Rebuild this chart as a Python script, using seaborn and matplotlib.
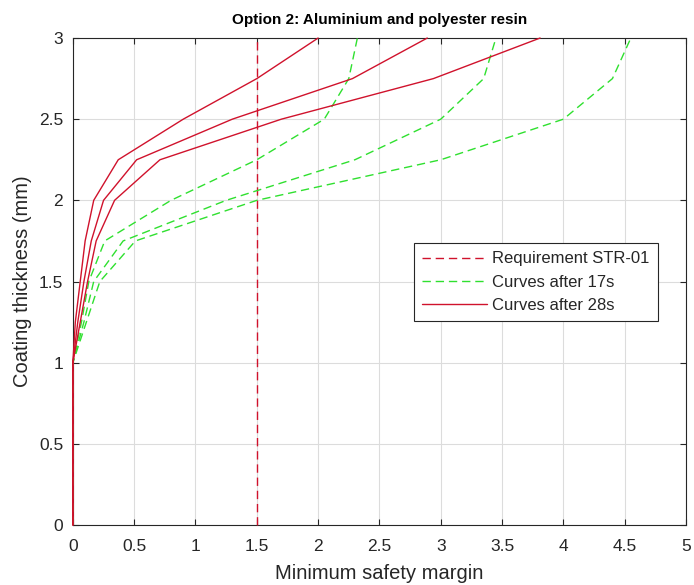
import numpy as np
import pandas as pd
import matplotlib
matplotlib.use('Agg')
import matplotlib.pyplot as plt
import seaborn as sns

# coating thickness levels (mm), shared by every curve
thickness = [0, 1, 1.25, 1.5, 1.75, 2.0, 2.25, 2.5, 2.75, 3.0]

# curves after 17s (green dashed)
green_a = [0, 0, 0.07, 0.13, 0.26, 0.80, 1.50, 2.05, 2.25, 2.32]
green_b = [0, 0, 0.09, 0.17, 0.41, 1.25, 2.30, 3.00, 3.35, 3.45]
green_c = [0, 0, 0.11, 0.22, 0.51, 1.50, 3.00, 4.00, 4.40, 4.55]

# curves after 28s (red solid)
red_a = [0, 0, 0.02, 0.06, 0.10, 0.17, 0.37, 0.90, 1.50, 2.00]
red_b = [0, 0, 0.04, 0.09, 0.15, 0.25, 0.52, 1.30, 2.28, 2.89]
red_c = [0, 0, 0.06, 0.12, 0.19, 0.34, 0.71, 1.70, 2.94, 3.81]

requirement = 1.5
req_y = [0, 3]

red = '#d0122c'
green = '#2fe02f'
dash = (0, (6, 3.5))

sns.set_style('whitegrid')
plt.rcParams['font.family'] = ['Liberation Sans', 'DejaVu Sans']

fig = plt.figure(figsize=(6.94, 5.85), dpi=100)
ax = fig.add_axes([0.105, 0.1026, 0.8835, 0.8324])

sns.lineplot(x=[requirement, requirement], y=req_y, ax=ax, sort=False, estimator=None,
             color=red, lw=1.0, linestyle=dash, label='Requirement STR-01', zorder=3)

for i, g in enumerate([green_a, green_b, green_c]):
    sns.lineplot(x=g, y=thickness, ax=ax, sort=False, estimator=None, color=green,
                 lw=1.0, linestyle=dash, zorder=3,
                 label='Curves after 17s' if i == 0 else None)

for i, r in enumerate([red_a, red_b, red_c]):
    sns.lineplot(x=r, y=thickness, ax=ax, sort=False, estimator=None, color=red,
                 lw=1.0, zorder=3, label='Curves after 28s' if i == 0 else None)

for ln in ax.lines:
    ln.set_clip_on(False)

ax.set_xlim(0, 5)
ax.set_ylim(0, 3)
ax.set_xticks(np.arange(0, 5.01, 0.5))
ax.set_yticks(np.arange(0, 3.01, 0.5))
ax.set_xticklabels(['0', '0.5', '1', '1.5', '2', '2.5', '3', '3.5', '4', '4.5', '5'])
ax.set_yticklabels(['0', '0.5', '1', '1.5', '2', '2.5', '3'])

ax.grid(True, color='#dcdcdc', lw=0.8)
for s in ax.spines.values():
    s.set_visible(True)
    s.set_color('#262626')
    s.set_linewidth(0.8)
    s.set_zorder(2)
ax.tick_params(direction='in', length=4, width=0.8, colors='#262626',
               labelsize=12.5, top=True, right=True, bottom=True, left=True)
ax.tick_params(axis='x', pad=10)
ax.tick_params(axis='y', pad=7)

ax.set_xlabel('Minimum safety margin', fontsize=14.5, color='#262626', labelpad=7)
ax.set_ylabel('Coating thickness (mm)', fontsize=14.5, color='#262626', labelpad=5)
ax.set_title('Option 2: Aluminium and polyester resin', fontsize=11, fontweight='bold',
             color='black', pad=10)

leg = ax.legend(loc='upper right', bbox_to_anchor=(0.954, 0.579), borderaxespad=0,
                fontsize=12, frameon=True, fancybox=False, framealpha=1,
                edgecolor='#262626', handlelength=3.9, handletextpad=0.3,
                borderpad=0.5, labelspacing=0.5)
leg.get_frame().set_linewidth(0.8)

fig.savefig('out.png', dpi=100)
